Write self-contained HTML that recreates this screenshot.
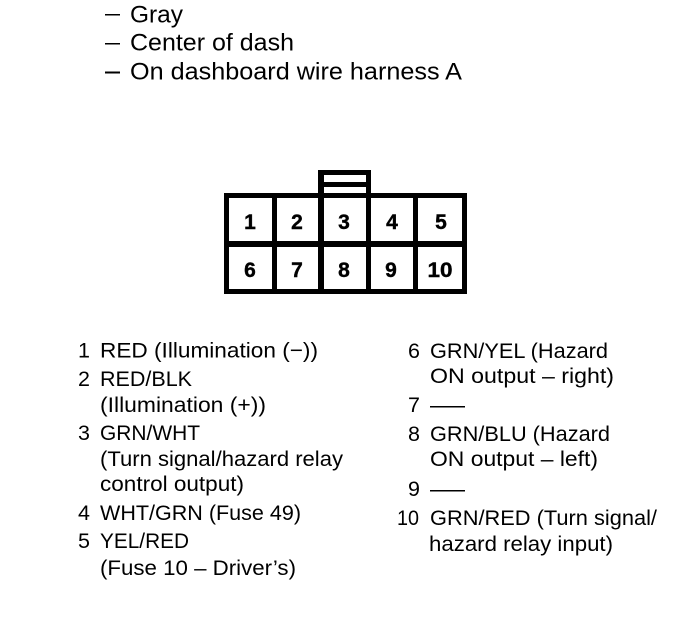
<!DOCTYPE html>
<html><head><meta charset="utf-8"><style>
html,body{margin:0;padding:0;background:#fff;width:688px;height:618px;overflow:hidden}
svg{display:block}
text{font-family:"Liberation Sans",sans-serif;fill:#000}
.t{font-size:24.5px}
.l{font-size:21.5px}
.d{font-size:21px;font-weight:bold;text-anchor:middle;stroke:#000;stroke-width:.4px}
</style></head><body>
<svg width="688" height="618" viewBox="0 0 688 618" xmlns="http://www.w3.org/2000/svg">
<rect width="688" height="618" fill="#fff"/>
<!-- header -->
<g fill="#000">
<rect x="105" y="14" width="15" height="1.5"/>
<rect x="105" y="43" width="15" height="1.5"/>
<rect x="105" y="71.5" width="15" height="2"/>
</g>
<text class="t" x="130" y="22.5" textLength="53" lengthAdjust="spacingAndGlyphs">Gray</text>
<text class="t" x="130" y="50.5" textLength="164" lengthAdjust="spacingAndGlyphs">Center of dash</text>
<text class="t" x="130" y="79.5" textLength="332" lengthAdjust="spacingAndGlyphs">On dashboard wire harness A</text>
<!-- connector -->
<g fill="#000">
<rect x="224" y="193" width="243" height="5"/>
<rect x="224" y="289" width="243" height="5"/>
<rect x="224" y="193" width="5" height="101"/>
<rect x="462" y="193" width="5" height="101"/>
<rect x="224" y="241" width="243" height="6"/>
<rect x="272" y="193" width="5" height="101"/>
<rect x="318" y="193" width="6" height="101"/>
<rect x="366" y="193" width="5" height="101"/>
<rect x="413" y="193" width="5" height="101"/>
<rect x="318" y="170" width="53" height="5"/>
<rect x="318" y="170" width="6" height="25"/>
<rect x="366" y="170" width="5" height="25"/>
<rect x="322" y="182" width="46" height="5"/>
</g>
<text class="d" x="250" y="229">1</text>
<text class="d" x="297" y="229">2</text>
<text class="d" x="344" y="229">3</text>
<text class="d" x="392" y="229">4</text>
<text class="d" x="441" y="229">5</text>
<text class="d" x="250" y="277">6</text>
<text class="d" x="297" y="277">7</text>
<text class="d" x="344" y="277">8</text>
<text class="d" x="391" y="277">9</text>
<text class="d" x="440" y="277" textLength="25" lengthAdjust="spacingAndGlyphs">10</text>
<!-- left list -->
<text class="l" x="78" y="357.5">1</text>
<text class="l" x="100" y="357.5" textLength="218" lengthAdjust="spacingAndGlyphs">RED (Illumination (−))</text>
<text class="l" x="78" y="386">2</text>
<text class="l" x="100" y="386" textLength="92" lengthAdjust="spacingAndGlyphs">RED/BLK</text>
<text class="l" x="100" y="412" textLength="166" lengthAdjust="spacingAndGlyphs">(Illumination (+))</text>
<text class="l" x="78" y="440">3</text>
<text class="l" x="100" y="440" textLength="100" lengthAdjust="spacingAndGlyphs">GRN/WHT</text>
<text class="l" x="100" y="466" textLength="243" lengthAdjust="spacingAndGlyphs">(Turn signal/hazard relay</text>
<text class="l" x="100" y="491" textLength="144" lengthAdjust="spacingAndGlyphs">control output)</text>
<text class="l" x="78" y="520">4</text>
<text class="l" x="100" y="520" textLength="201" lengthAdjust="spacingAndGlyphs">WHT/GRN (Fuse 49)</text>
<text class="l" x="78" y="548">5</text>
<text class="l" x="100" y="548" textLength="89" lengthAdjust="spacingAndGlyphs">YEL/RED</text>
<text class="l" x="100" y="575" textLength="196" lengthAdjust="spacingAndGlyphs">(Fuse 10 – Driver’s)</text>
<!-- right list -->
<text class="l" x="408" y="358">6</text>
<text class="l" x="430" y="358" textLength="178" lengthAdjust="spacingAndGlyphs">GRN/YEL (Hazard</text>
<text class="l" x="430" y="383" textLength="184" lengthAdjust="spacingAndGlyphs">ON output – right)</text>
<text class="l" x="408" y="412">7</text>
<rect x="430" y="406" width="35" height="1.5" fill="#000"/>
<text class="l" x="408" y="441">8</text>
<text class="l" x="430" y="441" textLength="180" lengthAdjust="spacingAndGlyphs">GRN/BLU (Hazard</text>
<text class="l" x="430" y="466" textLength="168" lengthAdjust="spacingAndGlyphs">ON output – left)</text>
<text class="l" x="408" y="496">9</text>
<rect x="430" y="490" width="35" height="1.5" fill="#000"/>
<text class="l" x="397" y="525" textLength="22" lengthAdjust="spacingAndGlyphs">10</text>
<text class="l" x="430" y="525" textLength="227" lengthAdjust="spacingAndGlyphs">GRN/RED (Turn signal/</text>
<text class="l" x="429" y="551" textLength="184" lengthAdjust="spacingAndGlyphs">hazard relay input)</text>
</svg>
</body></html>
